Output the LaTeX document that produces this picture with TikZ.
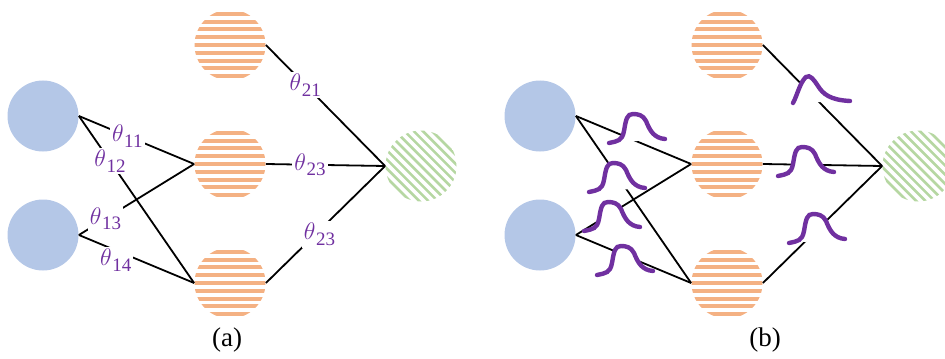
\documentclass[tikz,border=0pt]{standalone}
\usepackage{fontspec}
\setmainfont{Liberation Serif}
\usepackage{tikz}
\usetikzlibrary{positioning}

\definecolor{inblue}{HTML}{B4C7E7}
\definecolor{hidorange}{HTML}{F4B183}
\definecolor{outgreen}{HTML}{B6D7A2}
\definecolor{wpurple}{HTML}{7030A0}

\newcommand\wt[1]{$\theta$\kern.3pt\raisebox{-2.8pt}{\fontsize{9.5}{10}\selectfont #1}}

\tikzset{
  unit/.style={circle,inner sep=0pt,minimum size=35.5pt},
  inp/.style={unit,fill=inblue},
  hid/.style={unit,path picture={
      \foreach \k in {-4,...,4}
        \fill[hidorange] ([shift={(-20pt,\k*3.9pt-1pt)}]path picture bounding box.center) rectangle ++(40pt,2pt);}},
  outp/.style={unit,path picture={
      \foreach \k in {-9,...,9}
        \draw[outgreen,line width=1.3pt] ([shift={(\k*4.6pt-20pt,20pt)}]path picture bounding box.center) -- ++(40pt,-40pt);}},
  link/.style={line width=0.9pt},
  lab/.style={fill=white,inner sep=1pt,text=wpurple,font=\fontsize{12}{14}\selectfont},
  bumpline/.style={draw=wpurple,line width=2.2pt,fill=white,line cap=round},
  bump/.pic={
    \draw[bumpline] (-29,2) .. controls (-20,0) and (-16,0) .. (-14,-10)
                    .. controls (-12,-22) and (-11,-27) .. (-5,-27)
                    .. controls (0,-27) and (5,-26) .. (8,-20)
                    .. controls (12,-10) and (16,-3) .. (27,-2);
  }
}

\begin{document}
\begin{tikzpicture}[x=0.5pt,y=-0.5pt]
  \useasboundingbox (0,0) rectangle (945,358);
  % units of both nets
  \foreach \n/\dx in {a/0,b/497} {
    \node[inp] (\n-x1) at (43+\dx,116) {};
    \node[inp] (\n-x2) at (43+\dx,235) {};
    \node[hid] (\n-h1) at (230+\dx,45) {};
    \node[hid] (\n-h2) at (230+\dx,164) {};
    \node[hid] (\n-h3) at (230+\dx,283) {};
    \node[outp] (\n-y) at (421+\dx,166) {};
  }
  % (a) weights as numbers
  \draw[link] (a-x1.east) -- node[lab,pos=.42] {\wt{11}} (a-h2.west);
  \draw[link] (a-x1.east) -- node[lab,pos=.27] {\wt{12}} (a-h3.west);
  \draw[link] (a-x2.east) -- node[lab,pos=.23] {\wt{13}} (a-h2.west);
  \draw[link] (a-x2.east) -- node[lab,pos=.32,yshift=-5pt] {\wt{14}} (a-h3.west);
  \draw[link] (a-h1.east) -- node[lab,pos=.33] {\wt{21}} (a-y.west);
  \draw[link] (a-h2.east) -- node[lab,pos=.37] {\wt{23}} (a-y.west);
  \draw[link] (a-h3.east) -- node[lab,pos=.45,yshift=-2pt] {\wt{23}} (a-y.west);
  % (b) weights as distributions
  \foreach \i in {1,2} \foreach \j in {2,3}
    \draw[link] (b-x\i.east) -- (b-h\j.west);
  \foreach \j in {1,2,3}
    \draw[link] (b-h\j.east) -- (b-y.west);
  \pic at (638,141) {bump};
  \pic at (618,190) {bump};
  \pic at (613,229) {bump};
  \pic at (626,273) {bump};
  \pic at (807,174) {bump};
  \pic at (818,241) {bump};
  \draw[bumpline] (793,103) .. controls (797,96) and (800,82) .. (806,77)
                  .. controls (810,74) and (814,80) .. (818,86)
                  .. controls (823,94) and (830,100) .. (850,101);
  % captions
  \node[font=\fontsize{13.5}{16}\selectfont] (cap-a) at (227,340) {(a)};
  \node[font=\fontsize{13.5}{16}\selectfont] (cap-b) at (765,340) {(b)};
\end{tikzpicture}
\end{document}
